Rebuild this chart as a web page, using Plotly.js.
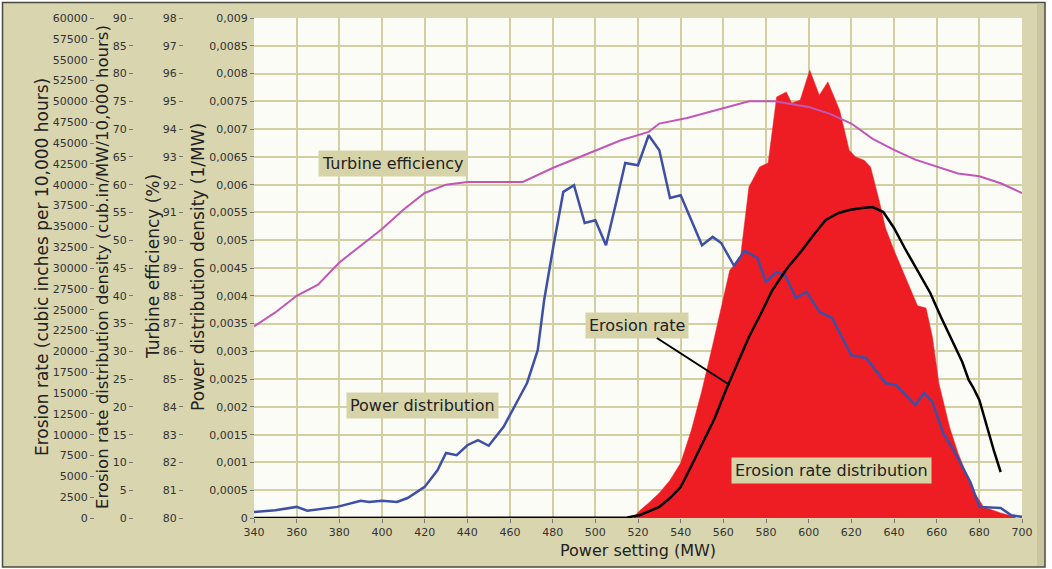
<!DOCTYPE html>
<html>
<head>
<meta charset="utf-8">
<script src="https://cdn.plot.ly/plotly-3.0.1.min.js"></script>
<style>html,body{margin:0;padding:0;background:#fff;}#chart{width:1052px;height:569px;}</style>
</head>
<body>
<div id="chart"></div>
<script>
// Turbine efficiency (%)
const effX = [340,350,360,370,380,390,400,410,420,430,440,450,466,480,496,512,525,530,543,558,572,584,592,600,610,620,630,640,650,660,670,680,690,700];
const effY = [86.9,87.4,88.0,88.4,89.2,89.8,90.4,91.1,91.7,92.0,92.1,92.1,92.1,92.6,93.1,93.6,93.9,94.2,94.4,94.7,95.0,95.0,94.9,94.8,94.55,94.2,93.65,93.25,92.9,92.65,92.4,92.3,92.05,91.7];

// Power distribution density (1/MW)
const powX = [340,350,360,365,379,390,394,400,407,412,420,426,430,435,440,445,450,457,463,468,473,476,480,485,490,495,500,505,510,514,520,525,530,535,540,550,555,559,565,570,576,580,585,589,594,599,605,611,620,627,636,641,650,654,658,663,668,676,680,690,695,700];
const powY = [0.00011,0.00014,0.0002,0.00013,0.0002,0.00031,0.00029,0.00031,0.00029,0.00036,0.00056,0.00086,0.00117,0.00113,0.00131,0.0014,0.0013,0.00164,0.00207,0.00243,0.00302,0.00392,0.00482,0.00587,0.00599,0.00531,0.00536,0.00491,0.00572,0.00639,0.00635,0.00689,0.00662,0.00576,0.00581,0.00491,0.00506,0.00495,0.00454,0.00481,0.00468,0.00425,0.00443,0.00437,0.00396,0.00407,0.00371,0.0036,0.00293,0.00288,0.00243,0.00239,0.00203,0.00225,0.00209,0.00153,0.00122,0.00063,0.0002,0.00018,0.00005,0.00002];

// Erosion rate distribution density (cub.in/MW/10,000 hours)
const erdX = [518,521,525,530,535,540,545,550,555,558,563,568,572,577,581,585,589.5,592,596,600.5,605,609,614.5,619,622,626,629,633,636,640,645,651,655,658,661,666,670,677,682,690,697];
const erdY = [0.2,1.4,2.7,4.5,6.8,9.9,15.8,23.0,31.1,36.2,44.6,46.8,59.6,63.2,63.9,75.8,76.7,74.7,75.2,80.6,76.1,78.5,73.4,66.2,65.0,64.4,63.2,57.2,52.2,48.2,43.7,38.2,37.8,32.6,24.3,16.4,11.7,5.0,2.0,0.9,0.2];

// Erosion rate (cubic inches per 10,000 hours)
const erX = [340,510,515,521,525,530,535,540,545,550,556,561,567,572,578,583,590,597,603,608,614,619,625,630,635,640,645,651,657,662,667,672,675,677,680,684,687,690];
const erY = [0,0,60,360,800,1320,2400,3720,6240,8880,12000,15240,18720,21720,24720,27360,30000,32160,34200,35760,36600,36960,37200,37320,36720,34800,32400,29760,27000,24120,21360,18720,16560,15720,14160,10560,7920,5520];

// Tick labels
const xTicks = [340,360,380,400,420,440,460,480,500,520,540,560,580,600,620,640,660,680,700];
const erTickVals = [0,2500,5000,7500,10000,12500,15000,17500,20000,22500,25000,27500,30000,32500,35000,37500,40000,42500,45000,47500,50000,52500,55000,57500,60000];
const erTickText = ["0","2500","5000","7500","10000","12500","15000","17500","20000","22500","25000","27500","30000","32500","35000","37500","40000","42500","45000","47500","50000","52500","55000","57500","60000"];
const erdTickVals = [0,5,10,15,20,25,30,35,40,45,50,55,60,65,70,75,80,85,90];
const erdTickText = ["0","5","10","15","20","25","30","35","40","45","50","55","60","65","70","75","80","85","90"];
const effTickVals = [80,81,82,83,84,85,86,87,88,89,90,91,92,93,94,95,96,97,98];
const effTickText = ["80","81","82","83","84","85","86","87","88","89","90","91","92","93","94","95","96","97","98"];
const powTickVals = [0,0.0005,0.001,0.0015,0.002,0.0025,0.003,0.0035,0.004,0.0045,0.005,0.0055,0.006,0.0065,0.007,0.0075,0.008,0.0085,0.009];
const powTickText = ["0","0,0005","0,001","0,0015","0,002","0,0025","0,003","0,0035","0,004","0,0045","0,005","0,0055","0,006","0,0065","0,007","0,0075","0,008","0,0085","0,009"];

// Axis titles
const titleX = 'Power setting (MW)';
const titleEr = 'Erosion rate (cubic inches per 10,000 hours)';
const titleErd = 'Erosion rate distribution density (cub.in/MW/10,000 hours)';
const titleEff = 'Turbine efficiency (%)';
const titlePow = 'Power distribution density (1/MW)';

const FONT = 'DejaVu Sans, Verdana, sans-serif';
const W = 1022; // paper width in px (1052 - right margin)
const px = v => v / W;
const py = v => (518 - v) / 500;

const traces = [
  {x: erdX, y: erdY, yaxis: 'y', type: 'scatter', mode: 'lines', fill: 'tozeroy',
   fillcolor: '#ee1d23', line: {color: '#ee1d23', width: 0.5}},
  {x: effX, y: effY, yaxis: 'y2', type: 'scatter', mode: 'lines',
   line: {color: '#c256b8', width: 2}},
  {x: powX, y: powY, yaxis: 'y3', type: 'scatter', mode: 'lines',
   line: {color: '#3d4fa6', width: 2.5}},
  {x: erX, y: erY, yaxis: 'y4', type: 'scatter', mode: 'lines',
   line: {color: '#000000', width: 2.5}}
];

const tickCommon = {
  tickmode: 'array', ticks: 'outside', ticklen: 4, tickwidth: 1, tickcolor: '#777',
  tickfont: {family: FONT, size: 11, color: '#333'}, showline: false, zeroline: false,
  fixedrange: true
};
const titleFont = {family: FONT, size: 17, color: '#222'};
const labelFont = {family: FONT, size: 16, color: '#222'};

function yTitle(text, xPix, size) {
  return {xref: 'paper', yref: 'paper', x: px(xPix), y: py(267), text: text, textangle: -90,
          showarrow: false, xanchor: 'center', yanchor: 'middle',
          font: Object.assign({}, titleFont, {size: size})};
}

const layout = {
  width: 1052, height: 569,
  margin: {l: 0, r: 30, t: 18, b: 51},
  paper_bgcolor: '#ffffff',
  plot_bgcolor: '#fcfcf6',
  showlegend: false,
  hovermode: false,
  font: {family: FONT},
  xaxis: {
    domain: [px(254), 1], range: [340, 700], tickmode: 'array', tickvals: xTicks,
    ticks: 'outside', ticklen: 4, tickcolor: '#777',
    tickfont: {family: FONT, size: 11, color: '#333'},
    showgrid: true, gridcolor: '#d2cfa2', gridwidth: 2, zeroline: false, showline: false,
    title: {text: titleX, font: {family: FONT, size: 16, color: '#222'}, standoff: 6}
  },
  yaxis: Object.assign({}, tickCommon, {
    range: [0, 90], tickvals: erdTickVals, ticktext: erdTickText,
    anchor: 'free', position: px(133), side: 'left',
    showgrid: true, gridcolor: '#d2cfa2', gridwidth: 2
  }),
  yaxis2: Object.assign({}, tickCommon, {
    range: [80, 98], tickvals: effTickVals, ticktext: effTickText,
    anchor: 'free', position: px(183), side: 'left', overlaying: 'y', showgrid: false
  }),
  yaxis3: Object.assign({}, tickCommon, {
    range: [0, 0.009], tickvals: powTickVals, ticktext: powTickText,
    anchor: 'free', position: px(254), side: 'left', overlaying: 'y', showgrid: false
  }),
  yaxis4: Object.assign({}, tickCommon, {
    range: [0, 60000], tickvals: erTickVals, ticktext: erTickText,
    anchor: 'free', position: px(94), side: 'left', overlaying: 'y', showgrid: false
  }),
  shapes: [
    {type: 'rect', xref: 'paper', yref: 'paper', layer: 'below',
     x0: px(2.5), x1: px(1045), y0: py(567), y1: py(2.5),
     fillcolor: '#d8d5af', line: {color: '#4a4a40', width: 1.5}},
    {type: 'rect', xref: 'paper', yref: 'paper', layer: 'below',
     x0: px(1037), x1: px(1044), y0: py(566), y1: py(3.5),
     fillcolor: '#c9c69f', line: {width: 0}},
    {type: 'rect', xref: 'paper', yref: 'paper', layer: 'below',
     x0: px(254), x1: 1, y0: 0, y1: 1,
     fillcolor: '#fcfcf6', line: {width: 0}}
  ],
  annotations: [
    yTitle(titleEr, 42, 17),
    yTitle(titleErd, 102, 16.5),
    yTitle(titleEff, 153, 17),
    yTitle(titlePow, 198, 17),
    {xref: 'x', yref: 'y', x: 405.2, y: 63.9, text: 'Turbine efficiency', showarrow: false,
     font: labelFont, bgcolor: '#d6d3a9', borderpad: 3},
    {xref: 'x', yref: 'y', x: 418.75, y: 20.2, text: 'Power distribution', showarrow: false,
     font: labelFont, bgcolor: '#d6d3a9', borderpad: 3},
    {xref: 'x', yref: 'y', x: 610.5, y: 8.64, text: 'Erosion rate distribution', showarrow: false,
     font: labelFont, bgcolor: '#d6d3a9', borderpad: 3},
    {xref: 'x', yref: 'y4', x: 563, y: 15960, text: 'Erosion rate', showarrow: true,
     arrowhead: 0, arrowwidth: 2, arrowcolor: '#000', ax: -93, ay: -60,
     font: labelFont, bgcolor: '#d6d3a9', borderpad: 3}
  ]
};

Plotly.newPlot('chart', traces, layout, {staticPlot: true, displayModeBar: false});
</script>
</body>
</html>
